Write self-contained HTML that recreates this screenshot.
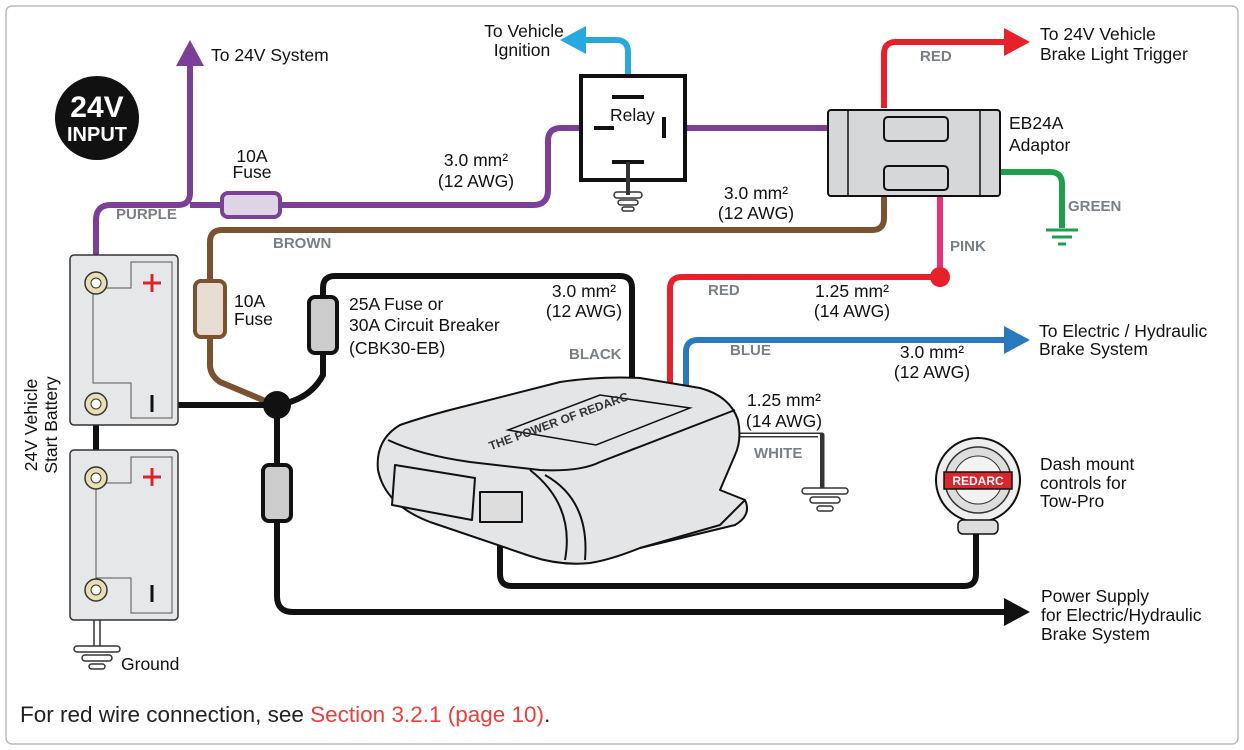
<!DOCTYPE html>
<html><head><meta charset="utf-8"><style>
html,body{margin:0;padding:0;background:#fff}
svg{display:block}
text{font-family:"Liberation Sans",sans-serif;fill:#111}
.l{font-size:17.5px}
.b{font-size:15px;font-weight:bold;fill:#7a7f85}
</style></head><body>
<svg width="1244" height="750" viewBox="0 0 1244 750" xmlns="http://www.w3.org/2000/svg">
<rect x="6" y="6" width="1232" height="738" rx="6" fill="#fff" stroke="#bbb" stroke-width="1.5"/>
<g fill="none" stroke-linejoin="round" stroke-linecap="butt" stroke-width="6">
<path d="M96 270 V220 Q96 205 111 205 H178 Q190 205 190 193 V62" stroke="#7b3f98"/>
<path d="M190 205 H533 Q548 205 548 190 V141 Q548 128 561 128 H600" stroke="#7b3f98"/>
<path d="M662 128 H830" stroke="#7b3f98"/>
<path d="M628 78 V52 Q628 40 616 40 H582" stroke="#29a8e0"/>
<path d="M884 108 V54 Q884 42 896 42 H1008" stroke="#e8202a"/>
<path d="M1000 172 H1050 Q1062 172 1062 184 V228" stroke="#1ea04a"/>
<path d="M940 196 V277" stroke="#e8317a"/>
<path d="M940 277 H682 Q670 277 670 289 V388" stroke="#e8202a"/>
<path d="M884 196 V218 Q884 230 872 230 H222 Q210 230 210 242 V365 Q210 375 220 382 L275 405" stroke="#7a5230"/>
<path d="M686 390 V352 Q686 340 698 340 H1008" stroke="#2a79be"/>
<path d="M735 435 H822 V488" stroke="#333" stroke-width="5"/>
<path d="M735 435 H819 V488" stroke="#fff" stroke-width="2"/>
<path d="M100 405 H277" stroke="#111"/>
<path d="M96 405 V458" stroke="#111"/>
<path d="M277 405 Q310 400 323 375 V288 Q323 276 335 276 H620 Q632 276 632 288 V382" stroke="#111"/>
<path d="M277 405 V596 Q277 612 293 612 H1008" stroke="#111"/>
<path d="M500 520 V574 Q500 586 512 586 H964 Q976 586 976 574 V530" stroke="#111"/>
</g>
<polygon points="176,66 190,40 204,66" fill="#7b3f98"/>
<polygon points="586,26 560,40 586,54" fill="#29a8e0"/>
<polygon points="1004,28 1030,42 1004,56" fill="#e8202a"/>
<polygon points="1004,326 1030,340 1004,354" fill="#2a79be"/>
<polygon points="1004,598 1030,612 1004,626" fill="#111"/>
<circle cx="277" cy="405" r="14" fill="#111"/>
<circle cx="940" cy="277" r="10" fill="#e8202a"/>
<rect x="222" y="193" width="58" height="24" rx="6" fill="#ddd4e6" stroke="#7b3f98" stroke-width="4"/>
<rect x="195" y="281" width="30" height="56" rx="6" fill="#e6dcd2" stroke="#7a5230" stroke-width="4"/>
<rect x="309" y="297" width="28" height="56" rx="6" fill="#ccc" stroke="#111" stroke-width="4"/>
<rect x="263" y="465" width="28" height="56" rx="6" fill="#ccc" stroke="#111" stroke-width="4"/>
<rect x="581" y="76" width="104" height="104" fill="#fff" stroke="#111" stroke-width="4"/>
<g stroke="#111" stroke-width="4"><path d="M612 97 H644"/><path d="M594 128 H614"/><path d="M664 117 V138"/><path d="M612 162 H644"/></g>
<path d="M628 162 V195" stroke="#333" stroke-width="4"/>
<g fill="none" stroke="#333" stroke-width="1.5"><rect x="614" y="192" width="28" height="6" rx="3"/><rect x="618" y="200" width="20" height="5" rx="2.5"/><rect x="622" y="207" width="12" height="4" rx="2"/></g>
<text x="610" y="121" class="l">Relay</text>
<rect x="828" y="110" width="172" height="86" rx="3" fill="#d6d7d9" stroke="#111" stroke-width="2"/>
<path d="M848 110 V196 M980 110 V196" stroke="#111" stroke-width="1.5"/>
<rect x="884" y="117" width="64" height="24" rx="4" fill="#d6d7d9" stroke="#111" stroke-width="2"/>
<rect x="884" y="166" width="64" height="24" rx="4" fill="#d6d7d9" stroke="#111" stroke-width="2"/>
<g fill="none" stroke="#1ea04a" stroke-width="3"><path d="M1046 230 H1078 M1052 237 H1072 M1058 244 H1066"/></g>
<g fill="none" stroke="#333" stroke-width="1.5"><rect x="802" y="488" width="46" height="6" rx="3"/><rect x="810" y="497" width="30" height="6" rx="3"/><rect x="817" y="506" width="16" height="5" rx="2.5"/></g>
<g fill="none" stroke="#333" stroke-width="1.5"><path d="M94 614 V646 M100 614 V646"/><rect x="74" y="646" width="46" height="6" rx="3"/><rect x="82" y="655" width="30" height="6" rx="3"/><rect x="89" y="664" width="16" height="5" rx="2.5"/></g>
<g fill="#e6e7e9" stroke="#333" stroke-width="1.5">
<rect x="70" y="255" width="108" height="170" rx="4"/>
<rect x="70" y="450" width="108" height="170" rx="4"/>
</g>
<g fill="none" stroke="#555" stroke-width="1"><path d="M96 288 H131 V262 H172 V418 H131 V383 H93 V288"/><path d="M96 483 H131 V457 H172 V613 H131 V578 H96 V483"/></g>
<g stroke="#d9262d" stroke-width="3"><path d="M143 283 H161 M152 274 V292"/><path d="M143 477 H161 M152 468 V486"/></g>
<g stroke="#111" stroke-width="3"><path d="M152 395 V412"/><path d="M152 585 V602"/></g>
<g fill="#eadfb3" stroke="#333" stroke-width="1.5">
<circle cx="96" cy="283" r="11"/><circle cx="96" cy="404" r="11"/><circle cx="96" cy="478" r="11"/><circle cx="96" cy="590" r="11"/>
</g>
<g fill="#fff" stroke="#333" stroke-width="1"><circle cx="96" cy="283" r="5"/><circle cx="96" cy="404" r="5"/><circle cx="96" cy="478" r="5"/><circle cx="96" cy="590" r="5"/></g>
<circle cx="97" cy="118" r="42" fill="#111"/>
<text x="97" y="117" text-anchor="middle" style="font-size:30px;font-weight:bold;fill:#fff">24V</text>
<text x="97" y="141" text-anchor="middle" style="font-size:20px;font-weight:bold;fill:#fff">INPUT</text>
<g stroke="#111" stroke-width="2" fill="#e4e5e7" stroke-linejoin="round">
<path d="M400 425 Q420 418 450 410 L560 382 Q600 376 640 378 L700 388 Q730 396 738 420 Q742 440 735 455 L720 490 L745 500 Q752 515 735 525 L640 548 Q610 560 590 563 Q560 566 530 556 L430 522 Q385 505 378 470 Q375 440 400 425 Z"/>
<path d="M388 440 Q420 455 470 462 L540 470 Q580 472 600 462 L735 410" fill="none"/>
<path d="M530 470 Q575 505 565 560" fill="none"/>
<path d="M545 475 Q590 500 585 560" fill="none"/>
<path d="M395 465 L475 478 L472 520 L392 505 Z"/>
<rect x="480" y="492" width="42" height="30" fill="#ddd"/>
<path d="M640 548 L720 525 L745 500" fill="none"/>
</g>
<path d="M508 430 L600 395 L690 408 L596 445 Z" fill="#e4e5e7" stroke="#111" stroke-width="1.5"/>
<text x="0" y="0" transform="translate(560 425) rotate(-20)" style="font-size:12px;font-weight:bold;fill:#333" text-anchor="middle">THE POWER OF REDARC</text>
<circle cx="978" cy="480" r="42" fill="#eee" stroke="#111" stroke-width="2"/>
<circle cx="978" cy="480" r="33" fill="#ddd" stroke="#333" stroke-width="1.5"/>
<circle cx="978" cy="480" r="24" fill="#f2f2f2" stroke="#333" stroke-width="1"/>
<rect x="944" y="472" width="68" height="17" fill="#d9262d" stroke="#111" stroke-width="1.5"/>
<text x="978" y="485" text-anchor="middle" style="font-size:12px;font-weight:bold;fill:#fff">REDARC</text>
<rect x="958" y="520" width="40" height="14" rx="5" fill="#ddd" stroke="#111" stroke-width="1.5"/>
<text x="211" y="61" class="l">To 24V System</text>
<text x="524" y="37" class="l" text-anchor="middle">To Vehicle</text>
<text x="522" y="56" class="l" text-anchor="middle">Ignition</text>
<text x="1040" y="40" class="l">To 24V Vehicle</text>
<text x="1040" y="60" class="l">Brake Light Trigger</text>
<text x="920" y="61" class="b">RED</text>
<text x="1009" y="129" class="l">EB24A</text>
<text x="1009" y="151" class="l">Adaptor</text>
<text x="1068" y="211" class="b">GREEN</text>
<text x="950" y="251" class="b">PINK</text>
<text x="252" y="162" class="l" text-anchor="middle">10A</text>
<text x="252" y="178" class="l" text-anchor="middle">Fuse</text>
<text x="116" y="219" class="b">PURPLE</text>
<text x="476" y="166" class="l" text-anchor="middle">3.0 mm²</text>
<text x="476" y="187" class="l" text-anchor="middle">(12 AWG)</text>
<text x="756" y="199" class="l" text-anchor="middle">3.0 mm²</text>
<text x="756" y="219" class="l" text-anchor="middle">(12 AWG)</text>
<text x="273" y="248" class="b">BROWN</text>
<text x="234" y="307" class="l">10A</text>
<text x="234" y="325" class="l">Fuse</text>
<text x="349" y="310" class="l">25A Fuse or</text>
<text x="349" y="331" class="l">30A Circuit Breaker</text>
<text x="349" y="354" class="l">(CBK30-EB)</text>
<text x="584" y="297" class="l" text-anchor="middle">3.0 mm²</text>
<text x="584" y="317" class="l" text-anchor="middle">(12 AWG)</text>
<text x="569" y="359" class="b">BLACK</text>
<text x="708" y="295" class="b">RED</text>
<text x="852" y="297" class="l" text-anchor="middle">1.25 mm²</text>
<text x="852" y="317" class="l" text-anchor="middle">(14 AWG)</text>
<text x="730" y="355" class="b">BLUE</text>
<text x="932" y="358" class="l" text-anchor="middle">3.0 mm²</text>
<text x="932" y="378" class="l" text-anchor="middle">(12 AWG)</text>
<text x="1039" y="337" class="l">To Electric / Hydraulic</text>
<text x="1039" y="355" class="l">Brake System</text>
<text x="784" y="406" class="l" text-anchor="middle">1.25 mm²</text>
<text x="784" y="427" class="l" text-anchor="middle">(14 AWG)</text>
<text x="754" y="458" class="b">WHITE</text>
<text x="1040" y="470" class="l">Dash mount</text>
<text x="1040" y="489" class="l">controls for</text>
<text x="1040" y="507" class="l">Tow-Pro</text>
<text x="1041" y="602" class="l">Power Supply</text>
<text x="1041" y="621" class="l">for Electric/Hydraulic</text>
<text x="1041" y="640" class="l">Brake System</text>
<text x="121" y="670" class="l">Ground</text>
<text transform="translate(37 425) rotate(-90)" class="l" text-anchor="middle">24V Vehicle</text>
<text transform="translate(57 425) rotate(-90)" class="l" text-anchor="middle">Start Battery</text>
<text x="20" y="722" style="font-size:22.5px;fill:#222">For red wire connection, see <tspan style="fill:#e8403a">Section 3.2.1 (page 10)</tspan>.</text>
</svg>
</body></html>
